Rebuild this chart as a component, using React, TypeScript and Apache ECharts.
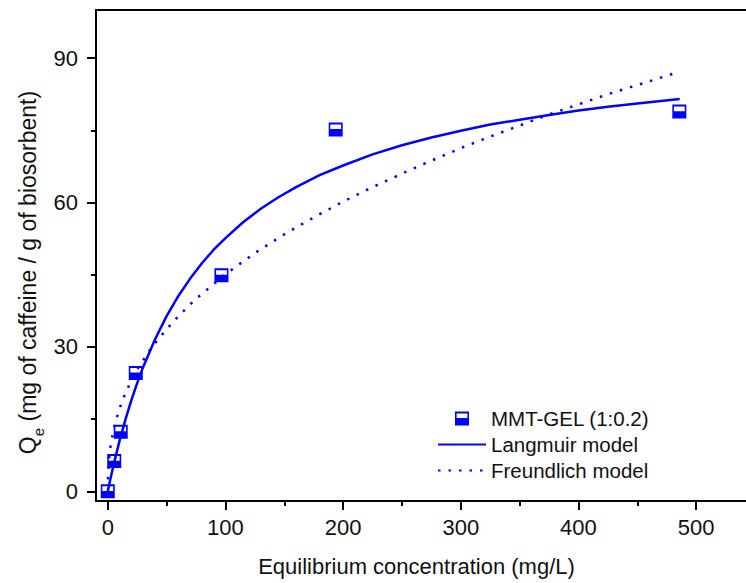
import React, { useEffect, useRef } from 'react';
import * as echarts from 'echarts';

// Experimental points (Ce mg/L, Qe mg/g)
const expC = [0, 5.5, 11, 23.8, 96.6, 193.7, 485.7];
const expQ = [0, 6.3, 12.4, 24.6, 44.9, 75.2, 78.9];

// Langmuir model curve
const langC = [0, 2, 5, 10, 15, 20, 25, 30, 40, 50, 60, 70, 80, 90, 100, 115, 130, 145, 160, 180, 200, 225, 250, 275, 300, 325, 350, 375, 400, 425, 450, 486];
const langQ = [0, 2.3, 5.6, 10.5, 14.9, 18.9, 22.5, 25.8, 31.5, 36.4, 40.6, 44.2, 47.4, 50.2, 52.6, 55.9, 58.7, 61.1, 63.2, 65.7, 67.7, 70.0, 71.9, 73.5, 74.9, 76.2, 77.2, 78.2, 79.1, 79.9, 80.6, 81.5];

// Freundlich model curve
const freC = [0.1, 1, 2, 3, 6, 10, 15, 20, 25, 35, 40, 50, 60, 75, 100, 125, 150, 175, 200, 225, 250, 275, 300, 325, 350, 375, 400, 425, 450, 486];
const freQ = [2.5, 6.6, 8.8, 10.4, 13.9, 17.2, 20.4, 23.0, 25.3, 29.1, 30.7, 33.7, 36.4, 40.0, 45.1, 49.5, 53.4, 56.9, 60.2, 63.2, 66.0, 68.7, 71.3, 73.7, 76.0, 78.3, 80.4, 82.5, 84.4, 87.2];

const xTicks = [0, 100, 200, 300, 400, 500];
const xMinorTicks = [50, 150, 250, 350, 450];
const yTicks = [0, 30, 60, 90];
const yMinorTicks = [15, 45, 75];

const seriesNames = ['MMT-GEL (1:0.2)', 'Langmuir model', 'Freundlich model'];
const xTitle = 'Equilibrium concentration (mg/L)';

const FONT = '"Liberation Sans", Arial, sans-serif';
const BLUE = '#0000ff';
const TEXT = '#111111';
const MARKER = 'path://M0,0H14V14H0Z M1.6,2V6.6H12.4V2Z';

export default function App() {
  const ref = useRef<HTMLDivElement>(null);
  useEffect(() => {
    const chart = echarts.init(ref.current!, null, { renderer: 'svg' });
    const X_MIN = -10, X_MAX = 550, Y_MIN = -2, Y_MAX = 100;
    const tickLine = { color: '#000', width: 2 };
    chart.setOption({
      animation: false,
      backgroundColor: '#ffffff',
      grid: {
        left: 96, top: 10, width: 659, height: 491,
        show: true, borderColor: '#000', borderWidth: 2,
        backgroundColor: 'transparent', containLabel: false,
        outerBoundsMode: 'none',
      },
      legend: {
        orient: 'vertical', left: 437, top: 408, padding: 0,
        itemWidth: 48, itemHeight: 14, itemGap: 5,
        textStyle: { fontSize: 20.5, fontFamily: FONT, color: TEXT },
        data: [
          { name: seriesNames[0] },
          { name: seriesNames[1], itemStyle: { opacity: 0 } },
          { name: seriesNames[2], itemStyle: { opacity: 0 } },
        ],
      },
      xAxis: [
        {
          type: 'value', min: X_MIN, max: X_MAX, position: 'bottom',
          axisLine: { show: false, onZero: false }, splitLine: { show: false },
          axisTick: { show: true, inside: false, length: 9, lineStyle: tickLine, customValues: xTicks },
          axisLabel: { customValues: xTicks, fontSize: 22, fontFamily: FONT, color: TEXT, margin: 15 },
          name: xTitle, nameLocation: 'middle', nameGap: 54, nameMoveOverlap: false,
          nameTextStyle: { fontSize: 22, fontFamily: FONT, color: TEXT, padding: [0, 18, 0, 0] },
        },
        {
          type: 'value', min: X_MIN, max: X_MAX, position: 'bottom',
          axisLine: { show: false, onZero: false }, splitLine: { show: false }, axisLabel: { show: false },
          axisTick: { show: true, inside: false, length: 5, lineStyle: tickLine, customValues: xMinorTicks },
        },
      ],
      yAxis: [
        {
          type: 'value', min: Y_MIN, max: Y_MAX, position: 'left',
          axisLine: { show: false, onZero: false }, splitLine: { show: false },
          axisTick: { show: true, inside: false, length: 9, lineStyle: tickLine, customValues: yTicks },
          axisLabel: { customValues: yTicks, fontSize: 22, fontFamily: FONT, color: TEXT, margin: 18 },
          name: '{q|Q}{e|e}{t| (mg of caffeine / g of biosorbent)}',
          nameLocation: 'middle', nameGap: 50, nameMoveOverlap: false,
          nameTextStyle: {
            fontSize: 23, fontFamily: FONT, color: TEXT, padding: [0, 34, 0, 0],
            rich: {
              q: { fontSize: 23, fontFamily: FONT, color: TEXT, lineHeight: 36 },
              e: { fontSize: 15, fontFamily: FONT, color: TEXT, lineHeight: 15, verticalAlign: 'bottom' },
              t: { fontSize: 23, fontFamily: FONT, color: TEXT, lineHeight: 36 },
            },
          },
        },
        {
          type: 'value', min: Y_MIN, max: Y_MAX, position: 'left',
          axisLine: { show: false, onZero: false }, splitLine: { show: false }, axisLabel: { show: false },
          axisTick: { show: true, inside: false, length: 5, lineStyle: tickLine, customValues: yMinorTicks },
        },
      ],
      series: [
        {
          name: seriesNames[0], type: 'scatter', xAxisIndex: 0, yAxisIndex: 0,
          data: expC.map((c, i) => [c, expQ[i]]),
          symbol: MARKER, symbolSize: 14, symbolKeepAspect: true,
          itemStyle: { color: BLUE, opacity: 1 }, z: 5,
        },
        {
          name: seriesNames[1], type: 'line', xAxisIndex: 0, yAxisIndex: 0,
          data: langC.map((c, i) => [c, langQ[i]]),
          showSymbol: false, symbol: 'none', smooth: false,
          lineStyle: { color: BLUE, width: 2.5 }, itemStyle: { color: BLUE }, z: 3,
        },
        {
          name: seriesNames[2], type: 'line', xAxisIndex: 0, yAxisIndex: 0,
          data: freC.map((c, i) => [c, freQ[i]]),
          showSymbol: false, symbol: 'none', smooth: false,
          lineStyle: { color: BLUE, width: 2.5, type: [2.5, 8] }, itemStyle: { color: BLUE }, z: 3,
        },
      ],
    });
    return () => chart.dispose();
  }, []);
  return (
    <div
      ref={ref}
      style={{ position: 'absolute', left: 0, top: 0, width: 746, height: 583, background: '#fff' }}
    />
  );
}
